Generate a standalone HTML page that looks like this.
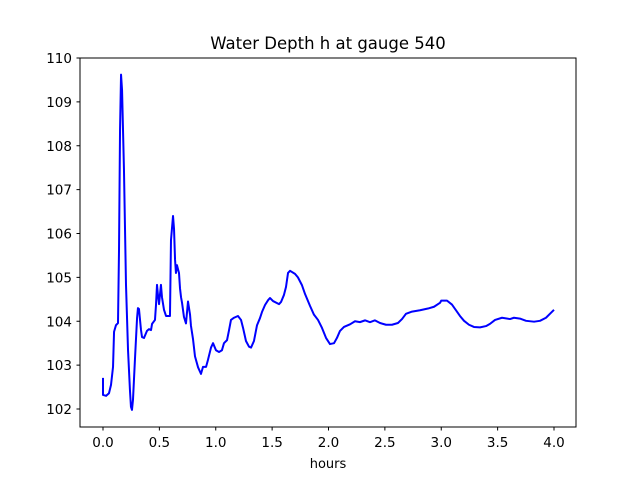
<!DOCTYPE html>
<html><head><meta charset="utf-8"><style>
html,body{margin:0;padding:0;background:#fff;}
svg{display:block;font-family:"DejaVu Sans","Liberation Sans",sans-serif;}
</style></head><body>
<svg id="chart" width="640" height="480">
<rect x="0" y="0" width="640" height="480" fill="#fff"/>
<text x="328" y="49" text-anchor="middle" font-size="16.5">Water Depth h at gauge 540</text>
<text x="328" y="468" text-anchor="middle" font-size="13">hours</text>
<g id="ticks"></g>
<path id="line" fill="none" stroke="#0000ff" stroke-width="2" stroke-linejoin="round"/>
<rect x="80" y="58" width="496" height="369" fill="none" stroke="#000" stroke-width="1"/>
</svg>
<script>
const hours=[0,0,0.027,0.053,0.071,0.089,0.098,0.115,0.133,0.142,0.151,0.160,0.169,0.186,0.204,0.222,0.239,0.248,0.257,0.266,0.284,0.302,0.310,0.319,0.337,0.346,0.364,0.390,0.408,0.426,0.435,0.461,0.470,0.479,0.488,0.497,0.514,0.523,0.541,0.559,0.594,0.603,0.621,0.630,0.639,0.647,0.656,0.674,0.683,0.692,0.701,0.718,0.736,0.754,0.772,0.780,0.798,0.816,0.843,0.869,0.887,0.914,0.931,0.958,0.976,1.002,1.029,1.055,1.073,1.100,1.118,1.135,1.162,1.197,1.224,1.242,1.268,1.295,1.313,1.339,1.366,1.392,1.410,1.437,1.464,1.481,1.508,1.561,1.579,1.605,1.623,1.641,1.659,1.703,1.729,1.765,1.792,1.836,1.871,1.907,1.942,1.978,2.013,2.049,2.075,2.102,2.137,2.191,2.235,2.279,2.324,2.368,2.412,2.457,2.510,2.563,2.616,2.652,2.687,2.741,2.812,2.882,2.936,2.989,3.0,3.051,3.095,3.131,3.166,3.202,3.246,3.290,3.344,3.397,3.432,3.477,3.539,3.610,3.645,3.698,3.752,3.823,3.876,3.929,3.964,4.0];
const depth=[102.71,102.32,102.30,102.36,102.55,102.96,103.76,103.91,103.96,105.62,108.36,109.62,109.27,107.45,104.83,103.34,102.43,102.05,101.98,102.21,103.16,104.07,104.30,104.28,103.80,103.64,103.62,103.78,103.82,103.80,103.94,104.03,104.37,104.83,104.58,104.39,104.83,104.55,104.26,104.12,104.12,105.85,106.40,106.10,105.40,105.10,105.28,105.10,104.75,104.55,104.42,104.10,103.95,104.45,104.15,103.90,103.60,103.20,102.95,102.80,102.96,102.96,103.12,103.40,103.50,103.34,103.30,103.34,103.50,103.57,103.80,104.03,104.08,104.12,104.03,103.85,103.55,103.42,103.40,103.55,103.91,104.07,104.21,104.37,104.48,104.53,104.46,104.39,104.44,104.60,104.78,105.10,105.15,105.08,105.00,104.82,104.62,104.35,104.15,104.03,103.85,103.62,103.48,103.50,103.62,103.78,103.87,103.93,104.00,103.98,104.02,103.98,104.02,103.96,103.92,103.92,103.96,104.05,104.17,104.22,104.25,104.29,104.33,104.42,104.47,104.47,104.38,104.25,104.12,104.01,103.92,103.87,103.86,103.89,103.94,104.03,104.08,104.05,104.08,104.06,104.01,103.99,104.01,104.08,104.17,104.26];
const xTicks=[0,0.5,1,1.5,2,2.5,3,3.5,4];
const xTickLabels=["0.0","0.5","1.0","1.5","2.0","2.5","3.0","3.5","4.0"];
const yTicks=[102,103,104,105,106,107,108,109,110];
const yTickLabels=["102","103","104","105","106","107","108","109","110"];
const NS="http://www.w3.org/2000/svg";
function sx(h){return 103+h*112.75;}
function sy(v){return 58+(110-v)*43.875;}
const g=document.getElementById('ticks');
xTicks.forEach((t,i)=>{
  const l=document.createElementNS(NS,'line');
  l.setAttribute('x1',sx(t));l.setAttribute('x2',sx(t));l.setAttribute('y1',427);l.setAttribute('y2',430.5);l.setAttribute('stroke','#000');
  
  
  g.appendChild(l);
  const tx=document.createElementNS(NS,'text');
  tx.setAttribute('x',sx(t));tx.setAttribute('y',447);tx.setAttribute('text-anchor','middle');tx.setAttribute('font-size','13.5');
  tx.textContent=xTickLabels[i];
  
  
  g.appendChild(tx);
});
yTicks.forEach((t,i)=>{
  const l=document.createElementNS(NS,'line');
  l.setAttribute('x1',76.5);l.setAttribute('x2',80);l.setAttribute('y1',sy(t));l.setAttribute('y2',sy(t));l.setAttribute('stroke','#000');
  
  
  g.appendChild(l);
  const tx=document.createElementNS(NS,'text');
  tx.setAttribute('x',72);tx.setAttribute('y',sy(t)+5);tx.setAttribute('text-anchor','end');tx.setAttribute('font-size','13.5');
  tx.textContent=yTickLabels[i];
  
  
  g.appendChild(tx);
});
let d='';
hours.forEach((h,i)=>{d+=(i?'L':'M')+sx(h).toFixed(2)+','+sy(depth[i]).toFixed(2);});
document.getElementById('line').setAttribute('d',d);
</script>
</body></html>
